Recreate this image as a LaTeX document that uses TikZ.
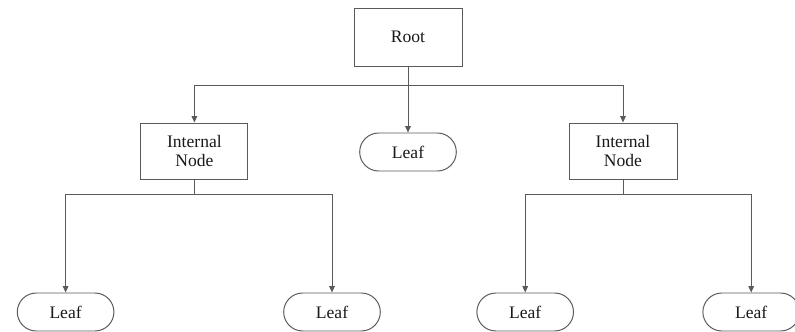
\documentclass[tikz,border=0pt]{standalone}
\usepackage{fontspec}
\setmainfont{Liberation Serif}
\usepackage{tikz}
\usetikzlibrary{shapes.misc, arrows.meta, positioning}
\definecolor{edgegray}{RGB}{90,90,90}
\definecolor{textgray}{RGB}{25,25,25}

\begin{document}
\begin{tikzpicture}[
  box/.style={rectangle, draw=edgegray, line width=0.7pt, fill=white, text=textgray,
              font=\fontsize{12.5}{14}\selectfont, minimum width=#1, minimum height=1.4cm, align=center},
  leaf/.style={rounded rectangle, draw=edgegray, line width=0.7pt, fill=white, text=textgray,
               font=\fontsize{12.5}{14}\selectfont, minimum width=2.65cm, minimum height=0.95cm},
  arr/.style={-{Triangle[length=1.6mm, width=1.4mm]}, edgegray, line width=0.7pt},
  wire/.style={edgegray, line width=0.7pt},
]
  \useasboundingbox (0,0) rectangle (19.875,-8.275);

  % Root
  \node[box=2.7cm, minimum height=1.45cm] (root) at (10.2,-0.925) {Root};

  % Second level
  \node[box=2.675cm] (intL) at (4.86,-3.775) {Internal\\Node};
  \node[leaf] (leafM) at (10.2,-3.8) {Leaf};
  \node[box=2.7cm] (intR) at (15.575,-3.775) {Internal\\Node};

  % Bottom leaves
  \node[leaf] (leafA) at (1.64,-7.8) {Leaf};
  \node[leaf] (leafB) at (8.3,-7.8) {Leaf};
  \node[leaf] (leafC) at (13.13,-7.8) {Leaf};
  \node[leaf] (leafD) at (18.78,-7.8) {Leaf};

  % Junctions
  \coordinate (jRoot) at (10.2,-2.125);
  \coordinate (jL) at (4.86,-4.85);
  \coordinate (jR) at (15.575,-4.85);

  % Root to second level
  \draw[wire] (root.south) -- (jRoot);
  \draw[arr] (jRoot) -| (intL.north);
  \draw[arr] (jRoot) -- (leafM.north);
  \draw[arr] (jRoot) -| (intR.north);

  % Internal nodes to leaves
  \draw[wire] (intL.south) -- (jL);
  \draw[arr] (jL) -| (leafA.north);
  \draw[arr] (jL) -| (leafB.north);
  \draw[wire] (intR.south) -- (jR);
  \draw[arr] (jR) -| (leafC.north);
  \draw[arr] (jR) -| (leafD.north);
\end{tikzpicture}
\end{document}
